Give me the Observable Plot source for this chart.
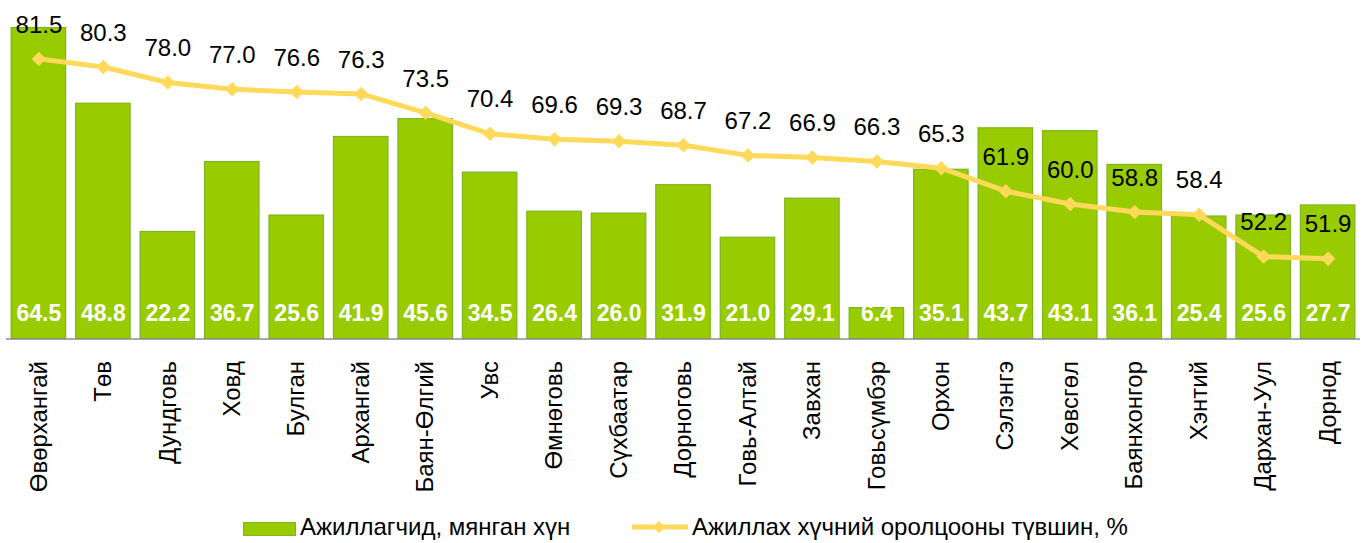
<!DOCTYPE html>
<html>
<head>
<meta charset="utf-8">
<script src="https://cdn.jsdelivr.net/npm/d3@7"></script>
<script src="https://cdn.jsdelivr.net/npm/@observablehq/plot@0.6"></script>
<style>
  html, body { margin: 0; padding: 0; background: #fff; }
  body { width: 1361px; height: 543px; overflow: hidden; font-family: "Liberation Sans", Arial, sans-serif; }
  #legend { position: relative; width: 1361px; height: 33px; }
  #legend .item { position: absolute; top: 0; height: 33px; display: flex; align-items: center; font-size: 24px; color: #000; white-space: nowrap; }
</style>
</head>
<body>
<div id="chart"></div>
<div id="legend">
  <div class="item" style="left:243px;">
    <svg width="53" height="14" style="margin-right:4px;margin-top:4px"><rect x="0.5" y="0.5" width="52" height="13" fill="#99CC00" stroke="#7DB51F" stroke-width="1"/></svg>
    <span>Ажиллагчид, мянган хүн</span>
  </div>
  <div class="item" style="left:632px;">
    <svg width="58" height="14" style="margin-right:2px;margin-top:1px"><line x1="0" y1="7" x2="56" y2="7" stroke="#FFD95A" stroke-width="5"/><path d="M27,1 L33,7 L27,13 L21,7 Z" fill="#FFD95A"/></svg>
    <span>Ажиллах хүчний оролцооны түвшин, %</span>
  </div>
</div>
<script>
const aimags = ["Өвөрхангай","Төв","Дундговь","Ховд","Булган","Архангай","Баян-Өлгий","Увс","Өмнөговь","Сүхбаатар","Дорноговь","Говь-Алтай","Завхан","Говьсүмбэр","Орхон","Сэлэнгэ","Хөвсгөл","Баянхонгор","Хэнтий","Дархан-Уул","Дорнод"];
const workers = [64.5,48.8,22.2,36.7,25.6,41.9,45.6,34.5,26.4,26.0,31.9,21.0,29.1,6.4,35.1,43.7,43.1,36.1,25.4,25.6,27.7];
const participation = [81.5,80.3,78.0,77.0,76.6,76.3,73.5,70.4,69.6,69.3,68.7,67.2,66.9,66.3,65.3,61.9,60.0,58.8,58.4,52.2,51.9];

// primary axis 0–70, secondary axis 40–90 (mapped onto primary)
const primaryMax = 70, secMin = 40, secMax = 90;
const toPrimary = v => (v - secMin) * primaryMax / (secMax - secMin);

const data = aimags.map((name, i) => ({name, workers: workers[i], rate: participation[i]}));

const chart = Plot.plot({
  width: 1361,
  height: 510,
  marginLeft: 6,
  marginRight: 1,
  marginTop: 1,
  marginBottom: 171.5,
  style: {fontFamily: "'Liberation Sans', Arial, sans-serif", background: "#fff"},
  x: {domain: aimags, paddingInner: 0.155, paddingOuter: 0.08, round: false, axis: null},
  y: {domain: [0, primaryMax], axis: null},
  marks: [
    Plot.barY(data, {x: "name", y: "workers", fill: "#99CC00", stroke: "#7DB51F", strokeWidth: 1.2}),
    Plot.ruleY([0], {stroke: "#8c8c8c", strokeWidth: 1.5}),
    Plot.text(data, {x: "name", y: 0, text: d => d.workers.toFixed(1), dy: -25, fill: "#fff", fontWeight: "bold", fontSize: 23}),
    Plot.lineY(data, {x: "name", y: d => toPrimary(d.rate), stroke: "#FFD95A", strokeWidth: 5}),
    Plot.dot(data, {x: "name", y: d => toPrimary(d.rate), symbol: "diamond2", fill: "#FFD95A", r: 6.5}),
    Plot.text(data, {x: "name", y: d => toPrimary(d.rate), text: d => d.rate.toFixed(1), dy: -34, fill: "#000", fontSize: 24}),
    Plot.axisX({tickSize: 0, tickPadding: 22, tickRotate: -90, fontSize: 24, label: null, fill: "#000"})
  ]
});
document.getElementById("chart").appendChild(chart);
</script>
</body>
</html>
